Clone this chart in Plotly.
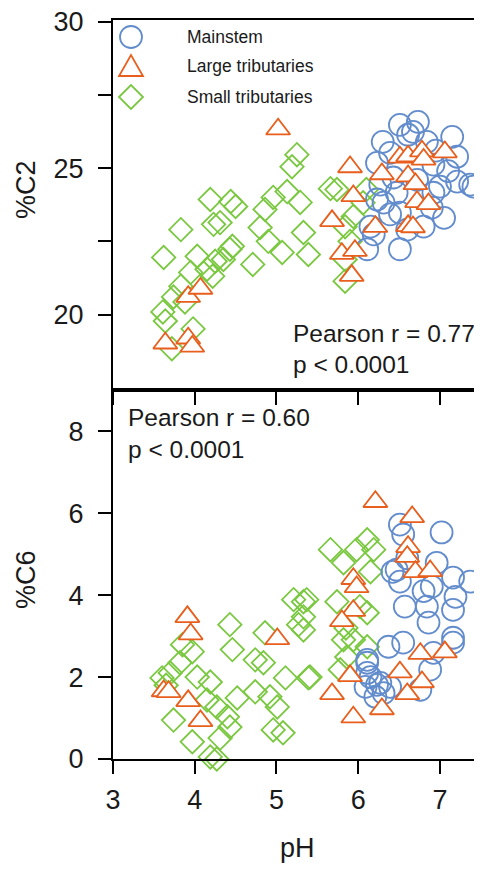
import plotly.graph_objects as go
from plotly.subplots import make_subplots

# ---------------- data ----------------
# Top panel (%C2 vs pH)
main_c2_ph = [6.51, 6.73, 6.30, 6.67, 7.15, 7.21, 6.92, 6.43, 7.21, 7.37, 7.00, 6.27, 6.31, 6.47, 6.90,
              6.51, 6.80, 6.51, 6.11, 6.19, 6.23, 6.23, 6.84, 6.61, 7.41, 6.39, 6.72, 6.92, 6.39,
              7.05, 6.60, 6.15, 6.95, 7.10]
main_c2 = [26.48, 26.58, 25.90, 26.24, 26.07, 25.39, 25.12, 24.68, 24.54, 24.44, 24.37, 24.44, 23.82, 24.16, 23.65,
           23.48, 23.00, 22.23, 22.23, 22.74, 25.18, 23.93, 25.90, 26.14, 24.37, 23.42, 24.60, 24.16, 25.52,
           23.30, 22.90, 23.00, 25.60, 24.90]

large_c2_ph = [5.02, 3.64, 3.92, 3.97, 3.92, 4.07, 5.90, 5.94, 5.68, 5.80, 5.96, 5.92, 6.29, 6.21, 6.51,
               6.61, 6.78, 7.06, 6.61, 6.70, 6.72, 6.86, 6.61, 6.67, 6.80]
large_c2 = [26.33, 19.02, 19.19, 18.91, 20.61, 20.89, 25.04, 24.05, 23.20, 22.08, 22.18, 21.33, 24.80, 23.00, 25.37,
            25.41, 25.58, 25.55, 24.73, 24.46, 23.85, 23.78, 23.03, 22.99, 25.30]

small_c2_ph = [5.25, 5.19, 4.19, 4.50, 4.44, 3.83, 4.31, 4.23, 4.96, 5.13, 4.86, 5.29, 4.80, 4.90, 5.07,
               5.33, 5.39, 4.71, 3.62, 4.03, 4.43, 4.35, 4.25, 4.15, 3.95, 3.83, 3.74, 3.88, 3.61, 3.64,
               3.98, 3.72, 4.22, 4.46, 5.74, 5.66, 5.94, 5.84, 5.90, 5.84, 5.84, 6.06, 6.10]
small_c2 = [25.46, 25.05, 23.93, 23.69, 23.86, 22.90, 23.14, 23.08, 24.00, 24.20, 23.59, 23.83, 22.97, 22.50, 22.12,
            22.80, 22.05, 21.71, 21.95, 21.99, 22.23, 21.88, 21.82, 21.55, 21.44, 20.97, 20.60, 20.43, 20.09, 19.78,
            19.51, 18.83, 21.31, 22.33, 24.27, 24.30, 23.35, 23.00, 22.50, 21.88, 21.14, 23.82, 24.27]

# Bottom panel (%C6 vs pH)
main_c6_ph = [6.51, 6.55, 7.02, 6.47, 6.42, 6.96, 7.16, 7.37, 6.90, 6.51, 7.19, 6.57, 6.84, 7.16, 6.86,
              7.16, 6.37, 6.55, 6.11, 6.15, 6.27, 6.39, 6.09, 6.21, 6.92, 6.88, 6.76, 6.11, 6.23, 6.31,
              7.16, 6.11, 6.60, 6.80]
main_c6 = [5.72, 5.48, 5.53, 4.62, 4.57, 4.79, 4.43, 4.33, 4.21, 4.33, 3.96, 3.72, 3.72, 3.64, 3.33,
           2.96, 2.74, 2.84, 2.42, 2.00, 1.86, 1.76, 1.76, 1.52, 2.59, 2.18, 1.69, 2.10, 1.81, 1.61,
           2.84, 2.35, 4.90, 4.10]

large_c6_ph = [3.91, 3.95, 3.62, 3.68, 3.92, 4.07, 5.01, 6.21, 6.66, 6.61, 6.60, 6.70, 6.88, 5.94, 5.98,
               5.94, 5.80, 6.76, 7.06, 6.51, 5.90, 6.78, 6.60, 5.68, 5.94, 6.29]
large_c6 = [3.47, 3.05, 1.66, 1.64, 1.42, 0.93, 2.93, 6.28, 5.91, 5.18, 4.94, 4.57, 4.59, 4.40, 4.20,
            3.62, 3.37, 2.57, 2.61, 2.12, 2.03, 1.88, 1.59, 1.59, 1.02, 1.22]

small_c6_ph = [5.21, 5.33, 5.27, 4.43, 4.86, 4.46, 3.85, 3.97, 3.82, 4.74, 4.84, 5.11, 5.39, 3.60, 4.03,
               4.19, 4.74, 4.92, 4.52, 5.01, 3.74, 4.27, 4.40, 4.43, 4.96, 5.08, 3.97, 4.31, 4.19, 4.27,
               4.15, 5.66, 6.11, 5.98, 6.19, 5.82, 6.15, 5.74, 6.02, 6.11, 5.82, 5.94, 6.11, 5.86, 5.41,
               5.37, 5.33, 5.33, 5.78, 5.85, 3.65, 3.70]
small_c6 = [3.89, 3.84, 3.28, 3.28, 3.08, 2.67, 2.79, 2.62, 2.35, 2.42, 2.35, 1.98, 1.98, 1.98, 2.00,
            1.88, 1.64, 1.52, 1.49, 1.27, 0.95, 1.27, 1.03, 0.78, 0.71, 0.64, 0.42, 0.51, 0.05, 0.00,
            1.44, 5.11, 5.35, 5.11, 5.11, 4.79, 4.57, 3.84, 3.72, 3.57, 2.91, 2.91, 2.74, 2.49, 2.00,
            3.89, 3.47, 3.15, 2.18, 3.20, 1.80, 2.10]

x_ticks = [3, 4, 5, 6, 7]
c2_ticks = [20, 22.5, 25, 27.5, 30]
c2_ticktext = ["20", "", "25", "", "30"]
c6_ticks = [0, 2, 4, 6, 8]

series_names = ["Mainstem", "Large tributaries", "Small tributaries"]
stats_top = ["Pearson r = 0.77", "p < 0.0001"]
stats_bot = ["Pearson r = 0.60", "p < 0.0001"]

# ---------------- style ----------------
BLUE = "rgb(98,140,204)"
ORANGE = "rgb(232,94,28)"
GREEN = "rgb(122,200,64)"
FONT = "Liberation Sans, Arial, sans-serif"
TXT = "#1a1a1a"

fig = make_subplots(rows=2, cols=1, shared_xaxes=True, vertical_spacing=0)

def add_group(xs, ys, row, symbol, color, size, fill):
    fig.add_trace(go.Scatter(
        x=xs, y=ys, mode="markers", showlegend=False, cliponaxis=False,
        marker=dict(symbol=symbol, size=size, color=fill,
                    line=dict(color=color, width=1.8))), row=row, col=1)

for row, (mx, my, lx, ly, sx, sy) in enumerate([
        (main_c2_ph, main_c2, large_c2_ph, large_c2, small_c2_ph, small_c2),
        (main_c6_ph, main_c6, large_c6_ph, large_c6, small_c6_ph, small_c6)], start=1):
    add_group(sx, sy, row, "diamond-open", GREEN, 18, GREEN)
    add_group(mx, my, row, "circle-open", BLUE, 22, BLUE)
    add_group(lx, ly, row, "triangle-up", ORANGE, 21, "white")

axis_common = dict(showline=True, linewidth=2, linecolor="black", mirror=True,
                   ticks="outside", ticklen=13, tickwidth=2, tickcolor="black",
                   showgrid=False, zeroline=False, automargin=False,
                   ticklabeloverflow="allow",
                   tickfont=dict(family=FONT, size=27, color=TXT))

fig.update_xaxes(range=[3, 7.49], tickvals=x_ticks, ticklabelstandoff=3, **axis_common)
fig.update_xaxes(showticklabels=False, row=1, col=1)
fig.update_yaxes(range=[17.44, 30.06], tickvals=c2_ticks, ticktext=c2_ticktext,
                 ticklabelstandoff=9, row=1, col=1, **axis_common)
fig.update_yaxes(range=[0, 9.02], tickvals=c6_ticks, ticklabelstandoff=9,
                 row=2, col=1, **axis_common)

# ---------------- legend (drawn) ----------------
# plot area on screen: x 113..480, y 20..759 (page body has an 8px margin)
PW, PH_ = 367.0, 739.0
def px2paper(px, py):
    return (px - 113) / PW, (759 - py) / PH_

leg_y = [37, 66, 97]
sym_x = 131
shapes = []
ax, ay = px2paper(sym_x, leg_y[0])
shapes.append(dict(type="circle", xref="paper", yref="paper", xsizemode="pixel", ysizemode="pixel",
                   xanchor=ax, yanchor=ay, x0=-11, x1=11, y0=-11, y1=11,
                   line=dict(color=BLUE, width=1.8)))
ax, ay = px2paper(sym_x, leg_y[1])
shapes.append(dict(type="path", xref="paper", yref="paper", xsizemode="pixel", ysizemode="pixel",
                   xanchor=ax, yanchor=ay, path="M-12,-10 L12,-10 L0,11 Z",
                   line=dict(color=ORANGE, width=1.8)))
ax, ay = px2paper(sym_x, leg_y[2])
shapes.append(dict(type="path", xref="paper", yref="paper", xsizemode="pixel", ysizemode="pixel",
                   xanchor=ax, yanchor=ay, path="M-12,0 L0,12 L12,0 L0,-12 Z",
                   line=dict(color=GREEN, width=1.8)))
fig.update_layout(shapes=shapes)

annotations = []
for name, y in zip(series_names, leg_y):
    ax, ay = px2paper(185, y)
    annotations.append(dict(x=ax, y=ay, xref="paper", yref="paper", text=name, showarrow=False,
                            xanchor="left", yanchor="middle",
                            font=dict(family=FONT, size=17.5, color=TXT)))

for txt, (px, py) in zip(stats_top, [(291, 333), (291, 364)]):
    ax, ay = px2paper(px, py)
    annotations.append(dict(x=ax, y=ay, xref="paper", yref="paper", text=txt, showarrow=False,
                            xanchor="left", yanchor="middle",
                            font=dict(family=FONT, size=24.5, color=TXT)))
for txt, (px, py) in zip(stats_bot, [(126, 417), (126, 449)]):
    ax, ay = px2paper(px, py)
    annotations.append(dict(x=ax, y=ay, xref="paper", yref="paper", text=txt, showarrow=False,
                            xanchor="left", yanchor="middle",
                            font=dict(family=FONT, size=24.5, color=TXT)))

for txt, (px, py) in zip(["%C2", "%C6"], [(26, 190), (26, 580)]):
    ax, ay = px2paper(px, py)
    annotations.append(dict(x=ax, y=ay, xref="paper", yref="paper", text=txt, showarrow=False,
                            textangle=-90, xanchor="center", yanchor="middle",
                            font=dict(family=FONT, size=27, color=TXT)))
ax, ay = px2paper(297, 848)
annotations.append(dict(x=ax, y=ay, xref="paper", yref="paper", text="pH", showarrow=False,
                        xanchor="center", yanchor="middle",
                        font=dict(family=FONT, size=27, color=TXT)))

fig.update_layout(annotations=annotations,
                  width=474, height=866,
                  margin=dict(l=105, r=2, t=12, b=115, autoexpand=False),
                  paper_bgcolor="white", plot_bgcolor="white",
                  showlegend=False)

fig.write_html("out.html")
